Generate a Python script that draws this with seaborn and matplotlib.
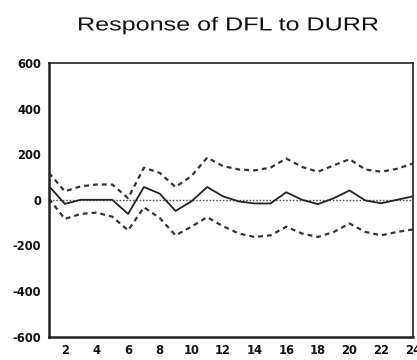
import matplotlib
matplotlib.use("Agg")
import matplotlib.pyplot as plt
import seaborn as sns
import numpy as np
import pandas as pd
from matplotlib.patheffects import AbstractPathEffect
from matplotlib.transforms import Affine2D

periods = list(range(1, 25))
response = [60, -18, 0, 0, 0, -62, 56, 27, -49, -7, 56, 15,
            -7, -16, -16, 33, 0, -19, 7, 41, -3, -15, 0, 15]
upper = [118, 37, 59, 67, 67, 7, 141, 118, 56, 104, 185, 148,
         133, 129, 141, 181, 144, 123, 151, 178, 133, 123, 136, 159]
lower = [5, -84, -62, -56, -74, -134, -33, -80, -156, -118, -76, -116,
         -148, -163, -156, -118, -148, -163, -141, -104, -141, -156, -141, -130]
title = "Response of DFL to DURR"
yticks = [-600, -400, -200, 0, 200, 400, 600]
xticklabels = [2, 4, 6, 8, 10, 12, 14, 16, 18, 20, 22, 24]


class StretchX(AbstractPathEffect):
    """Stretch text glyphs horizontally (the reference title is wide)."""
    def __init__(self, sx):
        super().__init__()
        self.sx = sx

    def draw_path(self, renderer, gc, tpath, affine, rgbFace=None):
        renderer.draw_path(gc, tpath, Affine2D().scale(self.sx, 1.0) + affine, rgbFace)


sns.set_style("white")
plt.rcParams['font.family'] = ['Liberation Sans', 'DejaVu Sans']

df = pd.DataFrame({"period": periods, "response": response, "upper": upper, "lower": lower})

fig = plt.figure(figsize=(4.17, 3.6), dpi=100)
ax = fig.add_axes([0.1175, 0.065, 0.8725, 0.76])

ax.axhline(0, color="#555555", lw=1.0, ls=(0, (1.2, 1.2)), zorder=1)
sns.lineplot(data=df, x="period", y="upper", ax=ax, color="#333333", lw=1.6,
             linestyle=(0, (2.2, 1.8)))
sns.lineplot(data=df, x="period", y="lower", ax=ax, color="#333333", lw=1.6,
             linestyle=(0, (2.2, 1.8)))
sns.lineplot(data=df, x="period", y="response", ax=ax, color="#222222", lw=1.3)

tick_font = dict(family=['DejaVu Sans'], size=8.3, weight='bold')
ax.set_xlim(1, 24)
ax.set_ylim(-600, 600)
ax.set_yticks(yticks)
ax.set_yticklabels([str(v) for v in yticks], fontdict=tick_font)
ax.set_xticks(xticklabels)
ax.set_xticklabels([str(v) for v in xticklabels], fontdict=tick_font)
ax.set_xticks(periods, minor=True)
ax.tick_params(axis="both", which="both", direction="out", length=4, width=1,
               color="#222222", labelcolor="#111111", pad=1.5)
ax.tick_params(axis="x", which="minor", length=4)
ax.set_xlabel("")
ax.set_ylabel("")

for side in ["left", "bottom"]:
    ax.spines[side].set_linewidth(1.8)
    ax.spines[side].set_color("#222222")
for side in ["top", "right"]:
    ax.spines[side].set_linewidth(1.2)
    ax.spines[side].set_color("#222222")
    ax.spines[side].set_visible(True)

fig.text(77 / 417, 0.928, title, ha="left", va="center", fontsize=13.6, color="#111111",
         path_effects=[StretchX(1.33)])

fig.savefig("out.png", dpi=100)
